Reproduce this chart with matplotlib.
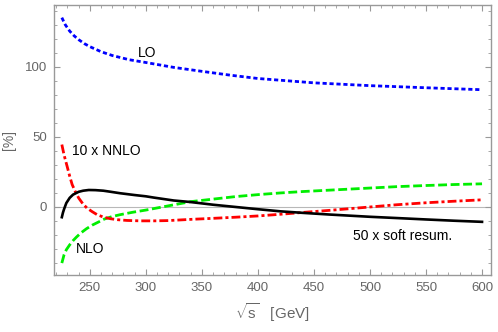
import matplotlib
matplotlib.use("Agg")
import matplotlib.pyplot as plt
from matplotlib.ticker import MultipleLocator

plt.rcParams['font.family'] = ['Liberation Sans', 'DejaVu Sans']
plt.rcParams['mathtext.fontset'] = 'custom'
plt.rcParams['mathtext.rm'] = 'Liberation Sans'

# LO (blue, dotted)
lo_x = [225, 228, 232, 236, 240, 245, 250, 260, 270, 285, 300, 325, 350, 375, 400, 450, 500, 550, 600]
lo_y = [135, 130, 125.4, 122, 119.3, 116.5, 114.3, 110.7, 108, 105, 103, 99.5, 96.7, 94, 91.6, 88.5, 86.5, 85, 83.6]

# NLO (green, dashed)
nlo_x = [225, 227, 229, 232, 235, 238, 242, 247, 252, 257, 263, 270, 277, 288, 300, 320, 340,
         360, 380, 400, 420, 440, 464, 500, 524, 550, 575, 600]
nlo_y = [-40, -34, -30.5, -27, -24, -21.5, -18.5, -15.5, -13, -11, -8.6, -6.8, -5.5, -3.8, -2.2, 0.8, 3.8,
         5.6, 7.4, 8.8, 10, 11, 12, 13.5, 14.5, 15.3, 16, 16.5]

# 10 x NNLO (red, dash-dot)
nnlo_x = [225, 227, 229.7, 232, 234.2, 237, 240, 244, 247.6, 252, 256.5, 262, 268.5, 275, 283, 295, 307,
          320, 341, 360, 380, 400, 420, 440, 464, 500, 524, 550, 575, 600]
nnlo_y = [44.5, 37, 29, 22, 16, 11, 6.4, 2, -0.9, -3.3, -5.5, -7.2, -8.4, -9.1, -9.6, -9.9, -9.9,
          -9.7, -8.8, -8.1, -7.3, -6.4, -5.2, -3.9, -2.4, 0, 1.6, 3, 4.1, 5.1]

# 50 x soft resummation (black, solid)
soft_x = [225, 226, 227, 229, 232, 235, 240, 244, 249, 255, 262, 268, 277, 290, 300, 307, 325, 339,
          360, 380, 400, 420, 440, 464, 500, 524, 550, 575, 600]
soft_y = [-7.3, -4, -1.5, 2.8, 6.5, 8.8, 10.8, 11.6, 12.1, 12, 11.6, 10.9, 9.8, 8.5, 7.6, 6.7, 4.6, 3.6,
          1.6, 0, -1.6, -3.1, -4.2, -5.4, -7, -7.9, -8.9, -9.8, -10.6]

x_ticks = [250, 300, 350, 400, 450, 500, 550, 600]
y_ticks = [0, 50, 100]

fig = plt.figure(figsize=(4.98, 3.32), dpi=100)
ax = fig.add_axes([54/498, 1-275/332, (491-54)/498, (275-5)/332])

ax.axhline(0, color='#b8b8b8', lw=0.8, zorder=0)

ax.plot(lo_x, lo_y, color='#0000ff', lw=2.0, dashes=(1.5, 1.0))
ax.plot(nlo_x, nlo_y, color='#00ee00', lw=2.0, dashes=(3.2, 1.3))
ax.plot(nnlo_x, nnlo_y, color='#ff0000', lw=2.0, dashes=(3.2, 1.1, 1.1, 1.1))
ax.plot(soft_x, soft_y, color='black', lw=1.9)

ax.text(292.6, 110, 'LO', fontsize=10, ha='left', va='center')
ax.text(234.5, 39.7, '10 x NNLO', fontsize=10, ha='left', va='center')
ax.text(237.5, -29.8, 'NLO', fontsize=10, ha='left', va='center')
ax.text(484.8, -21, '50 x soft resum.', fontsize=10, ha='left', va='center')

ax.set_xlim(218, 608)
ax.set_ylim(-48.5, 144)
ax.set_xticks(x_ticks)
ax.set_yticks(y_ticks)
ax.xaxis.set_minor_locator(MultipleLocator(10))
ax.yaxis.set_minor_locator(MultipleLocator(10))

gray = '#999999'
for s in ax.spines.values():
    s.set_color(gray)
    s.set_linewidth(1.0)
ax.tick_params(which='both', direction='in', top=True, right=True, color=gray,
               labelcolor='#666666', labelsize=9.5, pad=5)
ax.tick_params(which='major', length=4.5, width=0.8)
ax.tick_params(which='minor', length=2.5, width=0.6)

ax.set_xlabel(r'$\sqrt{\mathrm{s}}$   [GeV]', fontsize=11, color='#666666', labelpad=5)
ax.set_ylabel('[%]', fontsize=10, color='#666666', labelpad=6)

fig.savefig('out.png', dpi=100)
